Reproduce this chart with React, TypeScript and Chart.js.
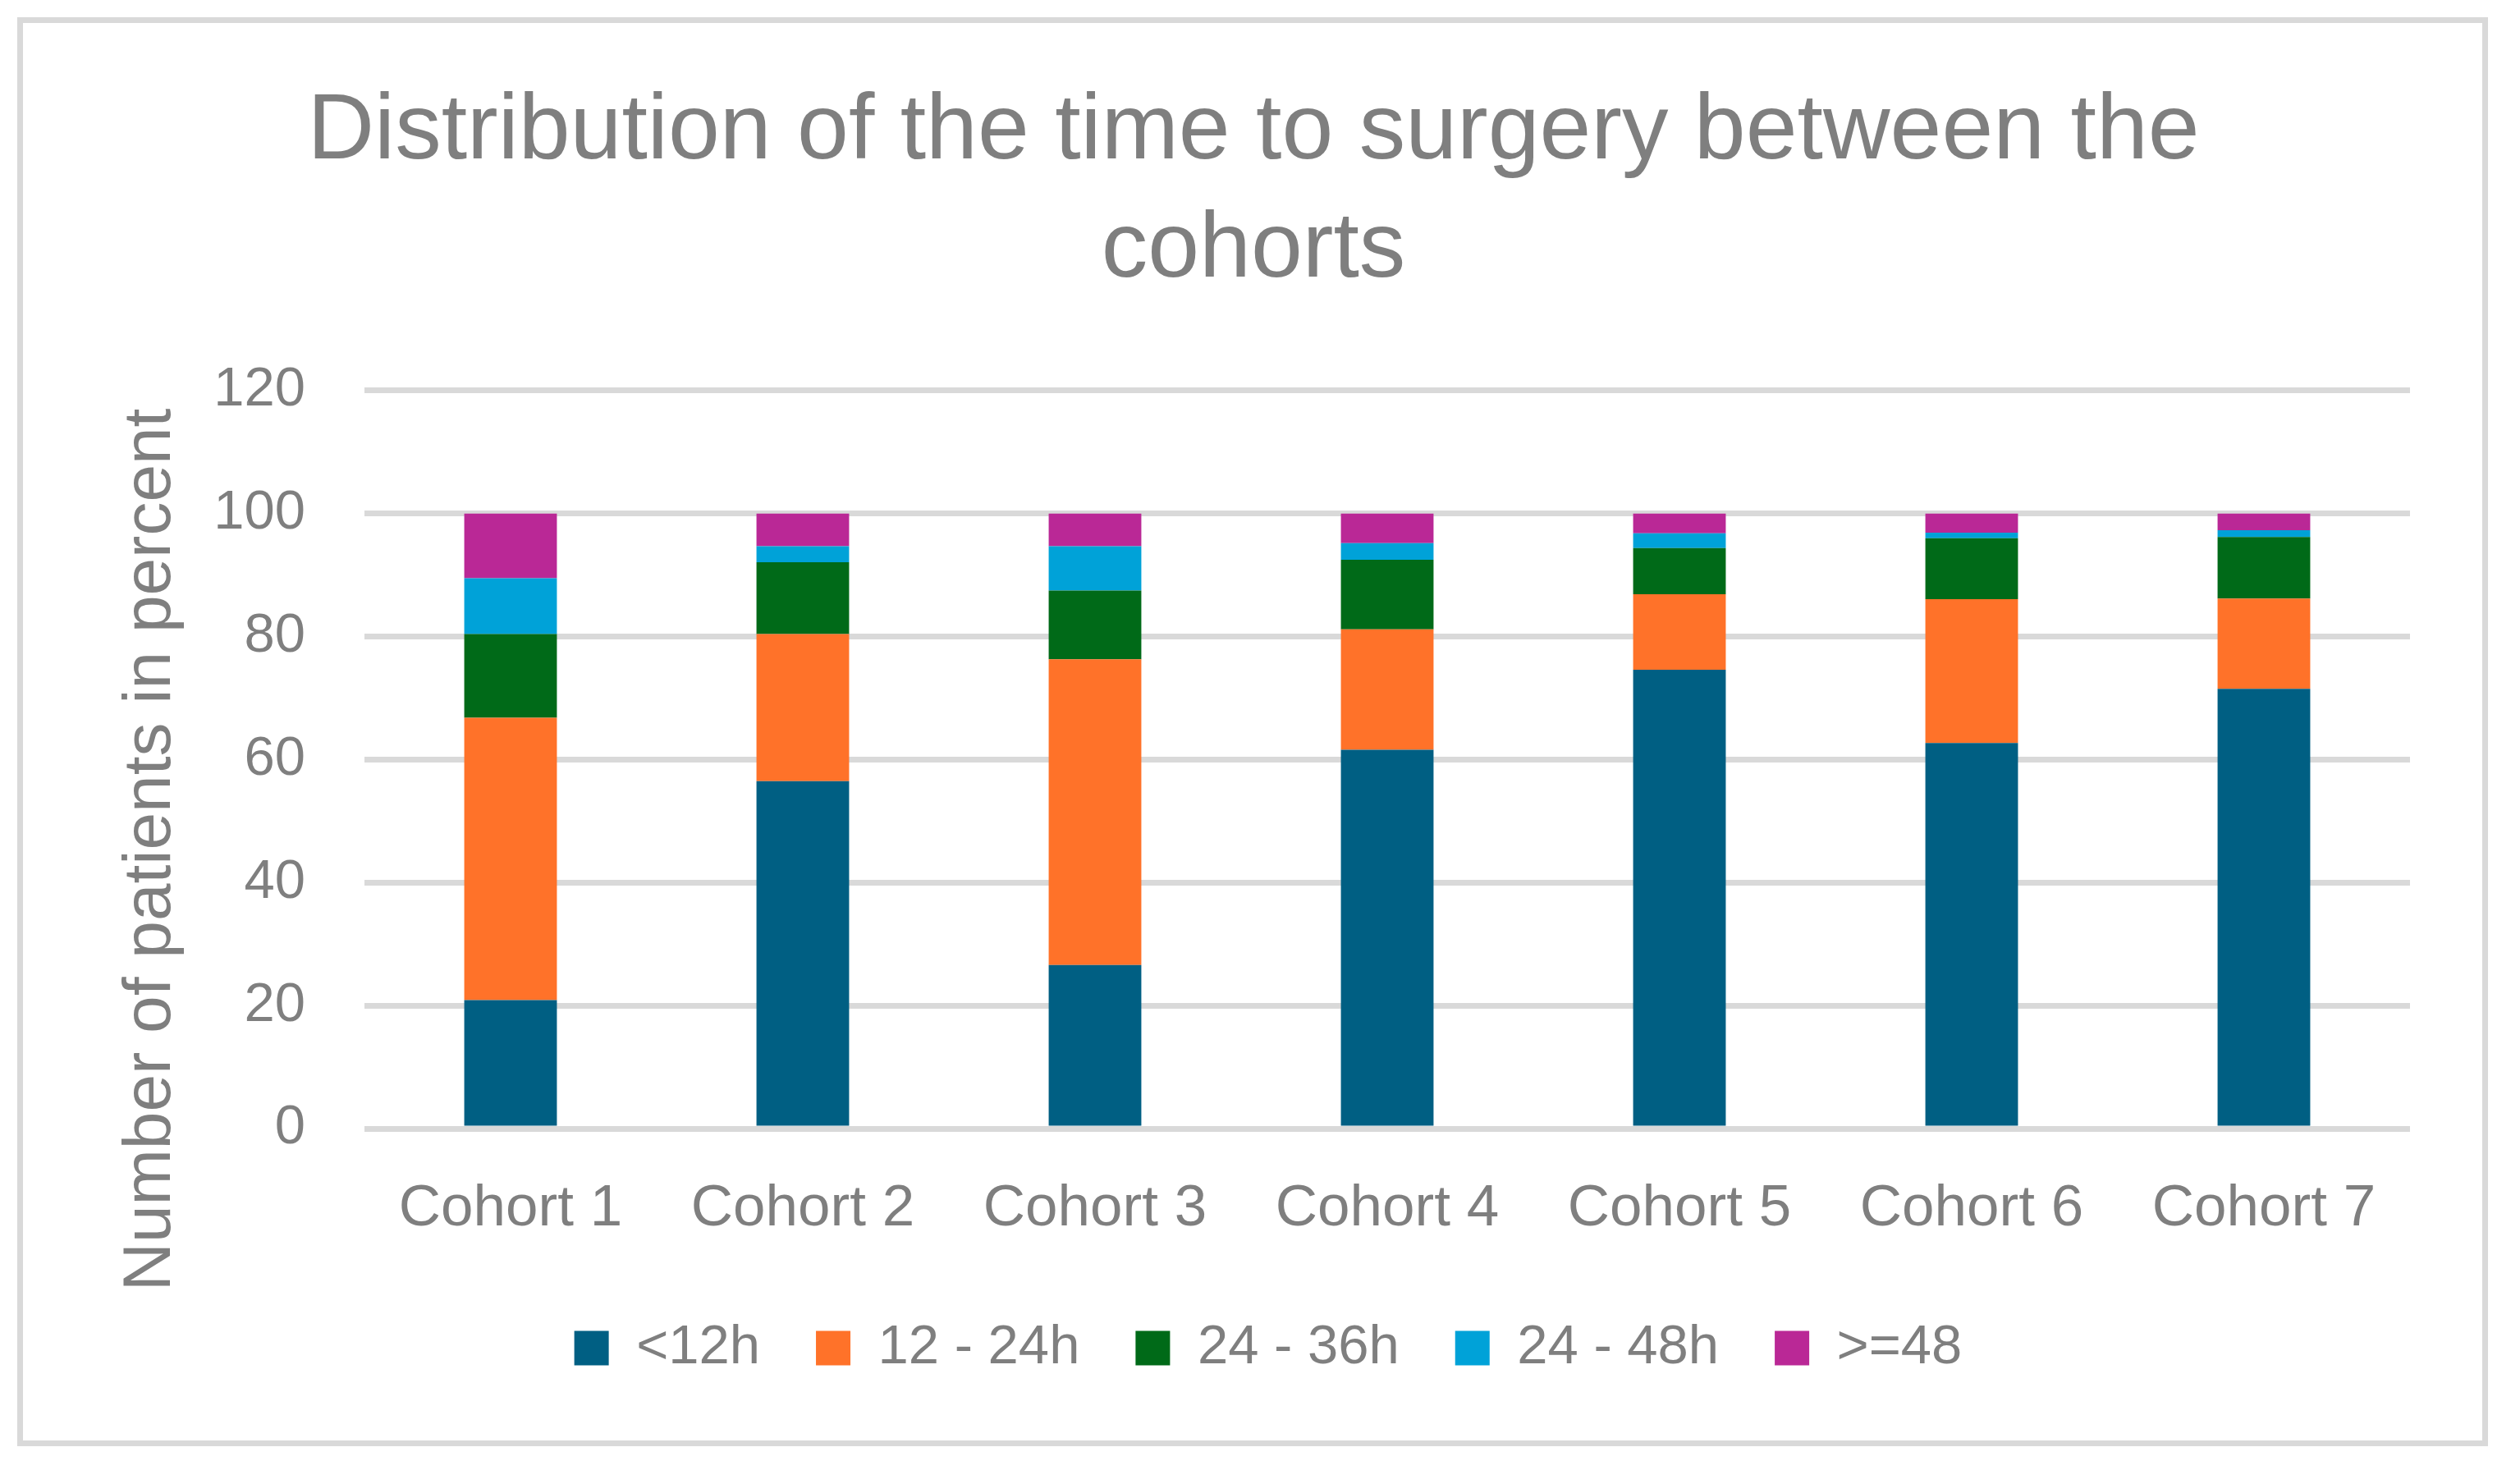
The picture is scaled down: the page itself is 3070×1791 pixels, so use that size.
import React, { useEffect, useRef } from "react";
import { Chart, registerables } from "chart.js";

Chart.register(...registerables);

// ---- Data ----
const categories = ["Cohort 1", "Cohort 2", "Cohort 3", "Cohort 4", "Cohort 5", "Cohort 6", "Cohort 7"];
const seriesLabels = ["<12h", "12 - 24h", "24 - 36h", "24 - 48h", ">=48"];
const under12h = [20.9, 56.5, 26.6, 61.6, 74.6, 62.7, 71.5];
const h12to24 = [45.9, 23.9, 49.7, 19.6, 12.3, 23.4, 14.7];
const h24to36 = [13.6, 11.7, 11.2, 11.3, 7.5, 9.9, 10.0];
const h24to48 = [9.1, 2.6, 7.2, 2.7, 2.4, 0.9, 1.1];
const over48 = [10.5, 5.3, 5.3, 4.8, 3.2, 3.1, 2.7];
const seriesValues = [under12h, h12to24, h24to36, h24to48, over48];
const seriesColors = ["#005F83", "#FF7229", "#006A18", "#00A2D8", "#BA2896"];
const yMin = 0;
const yMax = 120;
const yStep = 20;
const titleLines = ["Distribution of the time to surgery between the", "cohorts"];
const yAxisTitle = "Number of patients in percent";

// ---- Style ----
const W = 3070;
const H = 1791;
const FONT = '"Liberation Sans", Arial, sans-serif';
const GRAY = "#7f7f7f";
const GRID = "#d9d9d9";

const yTitlePlugin = {
  id: "yTitlePlugin",
  afterDraw(chart: any) {
    const { ctx, chartArea } = chart;
    ctx.save();
    ctx.font = `82px ${FONT}`;
    ctx.fillStyle = GRAY;
    ctx.textAlign = "center";
    ctx.textBaseline = "alphabetic";
    ctx.translate(chartArea.left - 237, (chartArea.top + chartArea.bottom) / 2 + 110);
    ctx.rotate(-Math.PI / 2);
    ctx.fillText(yAxisTitle, 0, 0);
    ctx.restore();
  },
};

const legendShiftPlugin = {
  id: "legendShiftPlugin",
  afterLayout(chart: any) {
    const lg = chart.legend;
    if (lg) {
      lg.left += 18;
      lg.right += 18;
    }
  },
};

export default function App() {
  const canvasRef = useRef<HTMLCanvasElement | null>(null);

  useEffect(() => {
    if (!canvasRef.current) return;
    const chart = new Chart(canvasRef.current, {
      type: "bar",
      data: {
        labels: categories,
        datasets: seriesLabels.map((label, i) => ({
          label,
          data: seriesValues[i],
          backgroundColor: seriesColors[i],
          borderWidth: 0,
          barPercentage: 1,
          categoryPercentage: 0.317,
        })),
      },
      options: {
        responsive: false,
        animation: false,
        devicePixelRatio: 1,
        layout: { padding: { left: 118, right: 134, top: 0, bottom: 105 } },
        plugins: {
          title: {
            display: true,
            text: titleLines,
            color: GRAY,
            font: { family: FONT, size: 113, weight: "normal", lineHeight: 1.274 },
            padding: { top: 90, bottom: 98 },
          },
          legend: {
            position: "bottom",
            labels: {
              boxWidth: 42,
              boxHeight: 42,
              padding: 68,
              color: GRAY,
              font: { family: FONT, size: 67 },
            },
          },
          tooltip: { enabled: false },
        },
        scales: {
          x: {
            stacked: true,
            grid: { display: false, drawTicks: false },
            border: { display: false },
            ticks: {
              color: GRAY,
              font: { family: FONT, size: 71 },
              padding: 56,
              maxRotation: 0,
              autoSkip: false,
            },
            afterFit: (s: any) => {
              s.height = 166;
            },
          },
          y: {
            stacked: true,
            min: yMin,
            max: yMax,
            ticks: {
              stepSize: yStep,
              color: GRAY,
              font: { family: FONT, size: 67 },
              padding: 72,
            },
            grid: { color: GRID, lineWidth: 7, drawTicks: false },
            border: { display: false },
            afterFit: (s: any) => {
              s.width = 326;
            },
          },
        },
      },
      plugins: [yTitlePlugin, legendShiftPlugin],
    } as any);
    return () => chart.destroy();
  }, []);

  return (
    <div style={{ position: "fixed", left: 0, top: 0, width: W, height: H, background: "#ffffff" }}>
      <canvas ref={canvasRef} width={W} height={H} style={{ position: "absolute", left: 0, top: 0, width: W, height: H }} />
      <div
        style={{
          position: "absolute",
          left: 21,
          top: 21,
          width: 3010,
          height: 1741,
          border: `7px solid ${GRID}`,
          boxSizing: "border-box",
          pointerEvents: "none",
        }}
      />
    </div>
  );
}
